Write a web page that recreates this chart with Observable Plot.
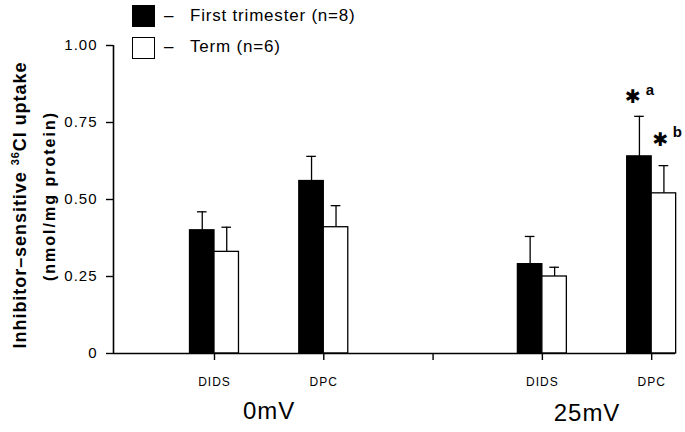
<!DOCTYPE html>
<html><head><meta charset="utf-8">
<script src="https://cdn.jsdelivr.net/npm/d3@7"></script>
<script src="https://cdn.jsdelivr.net/npm/@observablehq/plot@0.6"></script>
<style>
body{margin:0;background:#fff;}
#wrap{position:relative;width:685px;height:432px;font-family:"Liberation Sans",Arial,sans-serif;color:#000;}
#wrap svg{position:absolute;left:0;top:0;}
.abs{position:absolute;white-space:nowrap;}
.rot{transform:translate(-50%,-50%) rotate(-90deg);}
.sw{position:absolute;width:23px;height:22px;box-sizing:border-box;border:1.5px solid #000;}
.lg{position:absolute;font-size:17px;letter-spacing:0.8px;transform:translateY(-50%);white-space:nowrap;}
sup{font-size:11px;vertical-align:7px;line-height:0;}
</style></head><body><div id="wrap"></div>
<script>
// ---- data ----
const tickLabels = ["DIDS", "DPC", "", "DIDS", "DPC"];
const voltageLabels = ["0mV", "25mV"];
const firstMean = [0.40, 0.56, null, 0.29, 0.64];
const firstErr  = [0.46, 0.64, null, 0.38, 0.77];
const termMean  = [0.33, 0.41, null, 0.25, 0.52];
const termErr   = [0.41, 0.48, null, 0.28, 0.61];
const yTicks = [0, 0.25, 0.5, 0.75, 1];
const seriesNames = ["First trimester (n=8)", "Term (n=6)"];
const noteLetters = ["a", "b"];
const noteTick = 4; // DPC at 25mV

// ---- build table ----
const W = 0.224, CAP = 0.044;
const rows = [];
tickLabels.forEach((lab, i) => {
  if (firstMean[i] == null) return;
  const pos = i + 1;
  rows.push({tick: i, s: 0, x1: pos - W, x2: pos, mean: firstMean[i], err: firstErr[i]});
  rows.push({tick: i, s: 1, x1: pos, x2: pos + W, mean: termMean[i], err: termErr[i]});
});
rows.forEach(r => r.xc = (r.x1 + r.x2) / 2);
const notes = noteLetters.map((l, k) => ({...rows.find(r => r.tick === noteTick && r.s === k), letter: l}));
const noteA = [notes[0]], noteB = [notes[1]];
// group centres: midpoint of each voltage's two ticks
const groupCentres = [(1 + 2) / 2, (4 + 5) / 2];
const vA = [{x: groupCentres[0], label: voltageLabels[0]}];
const vB = [{x: groupCentres[1], label: voltageLabels[1]}];
const xDomain = [0.076, 5.218];

const chart = Plot.plot({
  width: 685, height: 432,
  marginLeft: 113, marginRight: 10, marginTop: 45, marginBottom: 79,
  x: {domain: xDomain},
  y: {domain: [0, 1]},
  style: {fontFamily: '"Liberation Sans", Arial, sans-serif', background: "white", color: "black", overflow: "visible"},
  marks: [
    Plot.rect(rows, {x1: "x1", x2: "x2", y1: 0, y2: "mean", fill: d => d.s ? "#fff" : "#000", stroke: "#000", strokeWidth: 1.3}),
    Plot.ruleX(rows, {x: "xc", y1: "mean", y2: "err", stroke: "#000", strokeWidth: 1.3}),
    Plot.ruleY(rows, {y: "err", x1: d => d.xc - CAP, x2: d => d.xc + CAP, stroke: "#000", strokeWidth: 1.3}),
    Plot.ruleY([0], {stroke: "#000", strokeWidth: 1.6}),
    Plot.ruleX([xDomain[0]], {y1: 0, y2: 1, stroke: "#000", strokeWidth: 1.6}),
    Plot.axisY({ticks: yTicks, tickFormat: d => d === 0 ? "0" : d.toFixed(2), tickSize: 7, tickPadding: 9, fontSize: 15, label: null, strokeWidth: 1.4}),
    Plot.axisX({ticks: [1, 2, 3, 4, 5], tickFormat: d => tickLabels[d - 1], tickSize: 7, tickPadding: 17, fontSize: 12, label: null, strokeWidth: 1.4}),
    Plot.text(vA, {x: "x", y: 0, dy: 58, fontSize: 24, text: "label", lineAnchor: "middle"}),
    Plot.text(vB, {x: "x", y: 0, dx: -10, dy: 60, fontSize: 24, text: "label", lineAnchor: "middle"}),
    Plot.text(noteA, {x: "xc", y: "err", dx: -6, dy: -19, text: () => "✱", fontSize: 19, fontFamily: "DejaVu Sans", lineAnchor: "middle"}),
    Plot.text(noteA, {x: "xc", y: "err", dx: 11, dy: -26, text: "letter", fontSize: 15, fontWeight: "bold", lineAnchor: "middle"}),
    Plot.text(noteB, {x: "xc", y: "err", dx: -3, dy: -26, text: () => "✱", fontSize: 19, fontFamily: "DejaVu Sans", lineAnchor: "middle"}),
    Plot.text(noteB, {x: "xc", y: "err", dx: 14, dy: -33, text: "letter", fontSize: 15, fontWeight: "bold", lineAnchor: "middle"})
  ]
});
const wrap = document.getElementById("wrap");
wrap.appendChild(chart);
chart.querySelectorAll("text").forEach(t => t.style.letterSpacing = "1px");

// legend
const sw1 = document.createElement("div"); sw1.className = "sw"; sw1.style.cssText = "left:132px;top:5px;background:#000;"; wrap.appendChild(sw1);
const sw2 = document.createElement("div"); sw2.className = "sw"; sw2.style.cssText = "left:132px;top:37px;background:#fff;"; wrap.appendChild(sw2);
[16, 47].forEach((y, k) => {
  const d = document.createElement("div"); d.className = "lg";
  d.style.left = "164px"; d.style.top = y + "px"; d.textContent = "–";
  wrap.appendChild(d);
  const t = document.createElement("div"); t.className = "lg";
  t.style.left = "190px"; t.style.top = y + "px";
  t.textContent = seriesNames[k];
  wrap.appendChild(t);
});
// y label
const l1 = document.createElement("div"); l1.className = "abs rot";
l1.style.cssText += "left:20px;top:205px;font-size:18px;font-weight:bold;letter-spacing:0.95px;";
l1.innerHTML = "Inhibitor–sensitive <sup>36</sup>Cl uptake";
wrap.appendChild(l1);
const l2 = document.createElement("div"); l2.className = "abs rot";
l2.style.cssText += "left:50px;top:196px;font-size:16px;font-weight:bold;letter-spacing:2px;";
l2.textContent = "(nmol/mg protein)";
wrap.appendChild(l2);
</script></body></html>
